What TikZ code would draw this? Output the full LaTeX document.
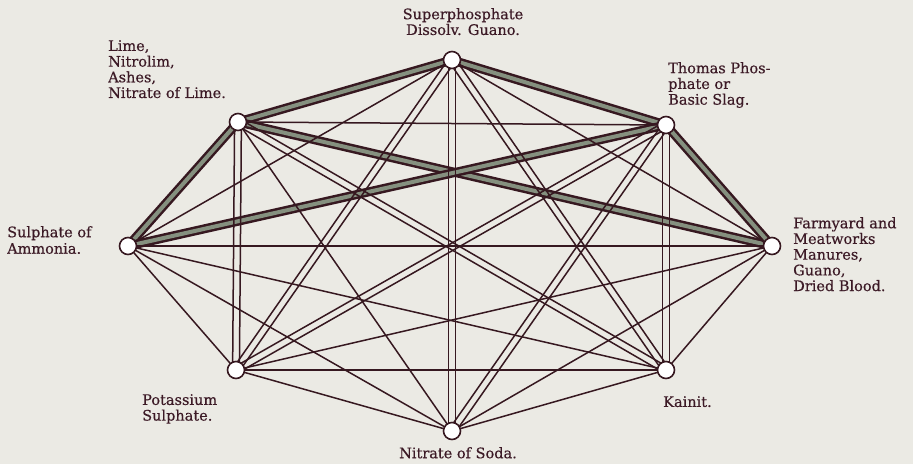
\documentclass[tikz,border=0pt]{standalone}
\usepackage{fontspec}
\setmainfont{DejaVu Serif}
\newfontfamily\lblfont{DejaVu Serif}[FakeBold=0.4]
\usetikzlibrary{calc}
\definecolor{bgc}{HTML}{EBEAE4}
\definecolor{ink}{HTML}{361820}
\definecolor{band}{HTML}{85907F}
\definecolor{txt}{HTML}{3C1A26}
\pgfdeclarelayer{bglayer}
\pgfdeclarelayer{edges}
\pgfsetlayers{bglayer,edges,main}
\newcommand\dblline[2]{%
  \draw[single] ($(#1.center)!3.4pt!90:(#2.center)$) -- ($(#2.center)!3.4pt!-90:(#1.center)$);
  \draw[single] ($(#1.center)!3.4pt!-90:(#2.center)$) -- ($(#2.center)!3.4pt!90:(#1.center)$);}
\newcommand\sgline[2]{\draw[single] (#1.center) -- (#2.center);}
\newcommand\thkline[2]{\draw[thickband] (#1.center) -- (#2.center);}
\begin{document}
\begin{tikzpicture}[x=1pt,y=-1pt,
  dot/.style={circle,draw=ink,fill=white,line width=1.6pt,minimum size=17pt,inner sep=0pt},
  lbl/.style={font=\lblfont\fontsize{14.5}{15.7}\selectfont,text=txt,inner sep=0pt,align=left,anchor=north west},
  single/.style={draw=ink,line width=1.5pt},
  thickband/.style={draw=band,line width=4pt,preaction={draw=ink,line width=9pt}}]
\useasboundingbox (0,0) rectangle (913,464);
\begin{pgfonlayer}{bglayer}
\fill[bgc] (0,0) rectangle (913,464);
\end{pgfonlayer}
% nodes
\node[dot] (S) at (452,60) {};
\node[dot] (L) at (238,122) {};
\node[dot] (T) at (666,125) {};
\node[dot] (A) at (128,246) {};
\node[dot] (F) at (772,246) {};
\node[dot] (P) at (236,370) {};
\node[dot] (K) at (666,370) {};
\node[dot] (N) at (452,431) {};
% labels
\node[lbl,anchor=north,align=center] (tS) at (463,8) {Superphosphate\\Dissolv. Guano.};
\node[lbl] (tL) at (108,40) {Lime,\\Nitrolim,\\Ashes,\\Nitrate of Lime.};
\node[lbl] (tT) at (668,62) {Thomas Phos-\\phate or\\Basic Slag.};
\node[lbl,font=\lblfont\fontsize{14.5}{16.5}\selectfont] (tA) at (7,226) {Sulphate of\\Ammonia.};
\node[lbl] (tF) at (793,217) {Farmyard and\\Meatworks\\Manures,\\Guano,\\Dried Blood.};
\node[lbl] (tP) at (142,394) {Potassium\\Sulphate.};
\node[lbl] (tK) at (663,396) {Kainit.};
\node[lbl,anchor=north,align=center] (tN) at (458,447) {Nitrate of Soda.};
% connectors
\begin{pgfonlayer}{edges}
\thkline{S}{L}
\thkline{S}{T}
\thkline{L}{A}
\thkline{L}{F}
\thkline{T}{A}
\thkline{T}{F}
\dblline{L}{P}
\dblline{L}{K}
\dblline{S}{P}
\dblline{S}{N}
\dblline{S}{K}
\dblline{T}{P}
\dblline{T}{N}
\dblline{T}{K}
\sgline{S}{A}
\sgline{S}{F}
\sgline{L}{T}
\sgline{L}{N}
\sgline{A}{F}
\sgline{A}{P}
\sgline{A}{K}
\sgline{A}{N}
\sgline{F}{P}
\sgline{F}{K}
\sgline{F}{N}
\sgline{P}{K}
\sgline{P}{N}
\sgline{K}{N}
\end{pgfonlayer}
\end{tikzpicture}
\end{document}
